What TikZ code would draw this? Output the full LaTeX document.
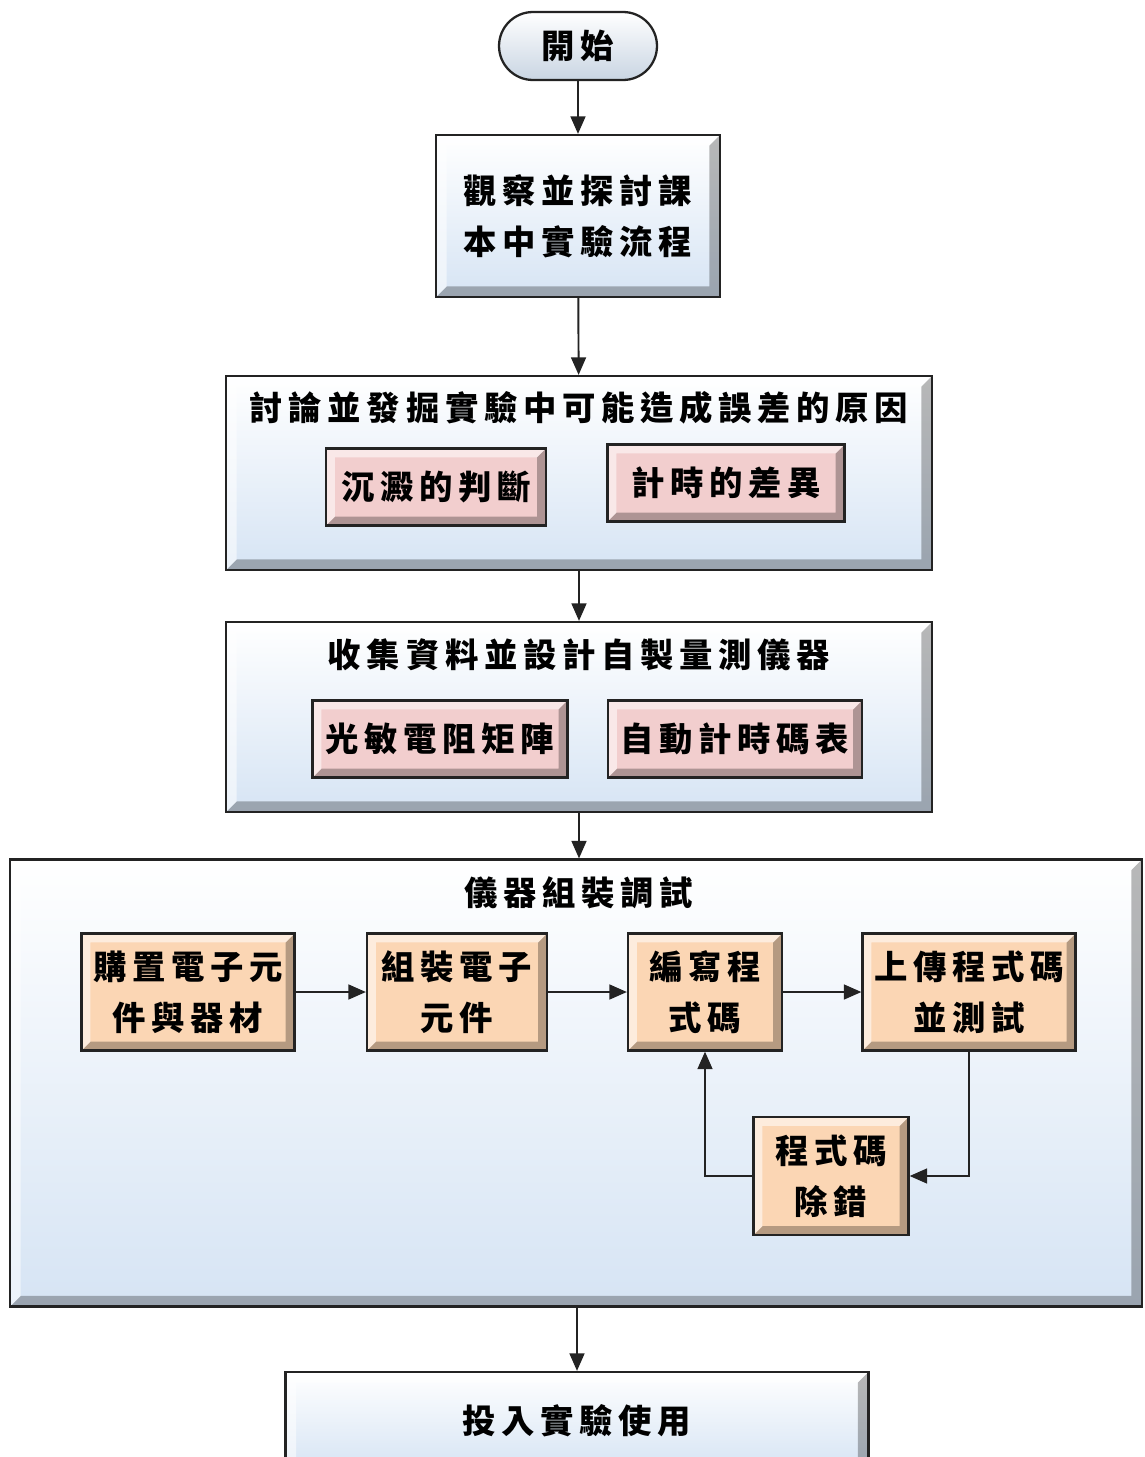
\documentclass[tikz,border=0pt]{standalone}
\usepackage{fontspec}
\usetikzlibrary{arrows.meta}
\newfontfamily\cjk[LetterSpace=17]{Noto Sans CJK TC}
\definecolor{boxblue}{RGB}{214,228,244}
\definecolor{boxpink}{RGB}{242,206,206}
\definecolor{boxpeach}{RGB}{251,214,180}
\definecolor{edgegray}{RGB}{35,35,35}

\begin{document}
\begin{tikzpicture}[
    x = 0.02cm, y = -0.02cm,
    bevel/.style = {path picture = {
        \fill [black, opacity = 0.28]
          (path picture bounding box.south west)
          -- (path picture bounding box.south east)
          -- (path picture bounding box.north east)
          -- ++(-#1, -#1) |- ([shift = {(#1, #1)}] path picture bounding box.south west)
          -- cycle;
        \fill [white, opacity = 0.55]
          (path picture bounding box.south west)
          -- (path picture bounding box.north west)
          -- (path picture bounding box.north east)
          -- ++(-#1, -#1) -| ([shift = {(#1, #1)}] path picture bounding box.south west)
          -- cycle;
      }},
    bevel/.default = 5pt,
    cjktext/.style = {font = {\cjk\bfseries\fontsize{19}{29}\selectfont},
      align = center},
    stage/.style = {draw = edgegray,
      line width = 1.3pt,
      top color = white,
      bottom color = boxblue,
      bevel = 6pt,
      cjktext},
    terminal/.style = {draw = edgegray,
      line width = 1.3pt,
      top color = white,
      bottom color = boxblue!85!gray,
      cjktext,
      rounded corners = 0.68cm,
      minimum width = 3.16cm,
      minimum height = 1.36cm},
    title/.style = {cjktext},
    reason/.style = {draw = edgegray,
      line width = 1.3pt,
      fill = boxpink,
      bevel,
      minimum height = 1.54cm,
      cjktext},
    task/.style = {draw = edgegray,
      line width = 1.3pt,
      fill = boxpeach,
      bevel,
      minimum height = 2.34cm,
      cjktext},
    flow/.style = {draw = edgegray,
      line width = 1.1pt,
      -{Triangle[length = 10pt, width = 8.5pt]}}
    ]

    \useasboundingbox (0, 0) rectangle (1144, 1457);
    \clip (0, 0) rectangle (1144, 1457);
    \fill [white] (0, 0) rectangle (1144, 1457);

    \node at (578, 46) [terminal, name = start] {開始};

    \node at (578, 216) [stage, name = observe,
      minimum width = 5.68cm, minimum height = 3.24cm]
      {觀察並探討課\\本中實驗流程};

    \node at (579, 473) [stage, name = discuss,
      minimum width = 14.12cm, minimum height = 3.88cm] {};
    \node at (579, 408) [title, name = discusstitle]
      {討論並發掘實驗中可能造成誤差的原因};
    \node at (436, 487) [reason, name = settle, minimum width = 4.4cm]
      {沉澱的判斷};
    \node at (726, 483) [reason, name = timing, minimum width = 4.74cm]
      {計時的差異};

    \node at (579, 717) [stage, name = design,
      minimum width = 14.12cm, minimum height = 3.8cm] {};
    \node at (579, 655) [title, name = designtitle]
      {收集資料並設計自製量測儀器};
    \node at (440, 739) [reason, name = ldr, minimum width = 5.1cm]
      {光敏電阻矩陣};
    \node at (735, 739) [reason, name = stopwatch, minimum width = 5.08cm]
      {自動計時碼表};

    \node at (576, 1083) [stage, name = build,
      minimum width = 22.64cm, minimum height = 8.94cm] {};
    \node at (579, 893) [title, name = buildtitle] {儀器組裝調試};
    \node at (188, 992) [task, name = buy, minimum width = 4.26cm]
      {購置電子元\\件與器材};
    \node at (457, 992) [task, name = assemble, minimum width = 3.6cm]
      {組裝電子\\元件};
    \node at (705, 992) [task, name = code, minimum width = 3.08cm]
      {編寫程\\式碼};
    \node at (969, 992) [task, name = upload, minimum width = 4.26cm]
      {上傳程式碼\\並測試};
    \node at (831, 1176) [task, name = debug, minimum width = 3.1cm,
      minimum height = 2.36cm] {程式碼\\除錯};

    \node at (577, 1421) [stage, name = use,
      minimum width = 11.66cm, minimum height = 1.96cm] {投入實驗使用};

    \draw [flow] (start) -- (observe);
    \draw [flow] (observe) -- (discuss);
    \draw [flow] (discuss) -- (design);
    \draw [flow] (design.south) -- (design.south |- build.north);
    \draw [flow] (build.south -| use.north) -- (use);

    \draw [flow] (buy) -- (assemble);
    \draw [flow] (assemble) -- (code);
    \draw [flow] (code) -- (upload);
    \draw [flow] (upload) |- (debug);
    \draw [flow] (debug) -| (code);
  \end{tikzpicture}
\end{document}
